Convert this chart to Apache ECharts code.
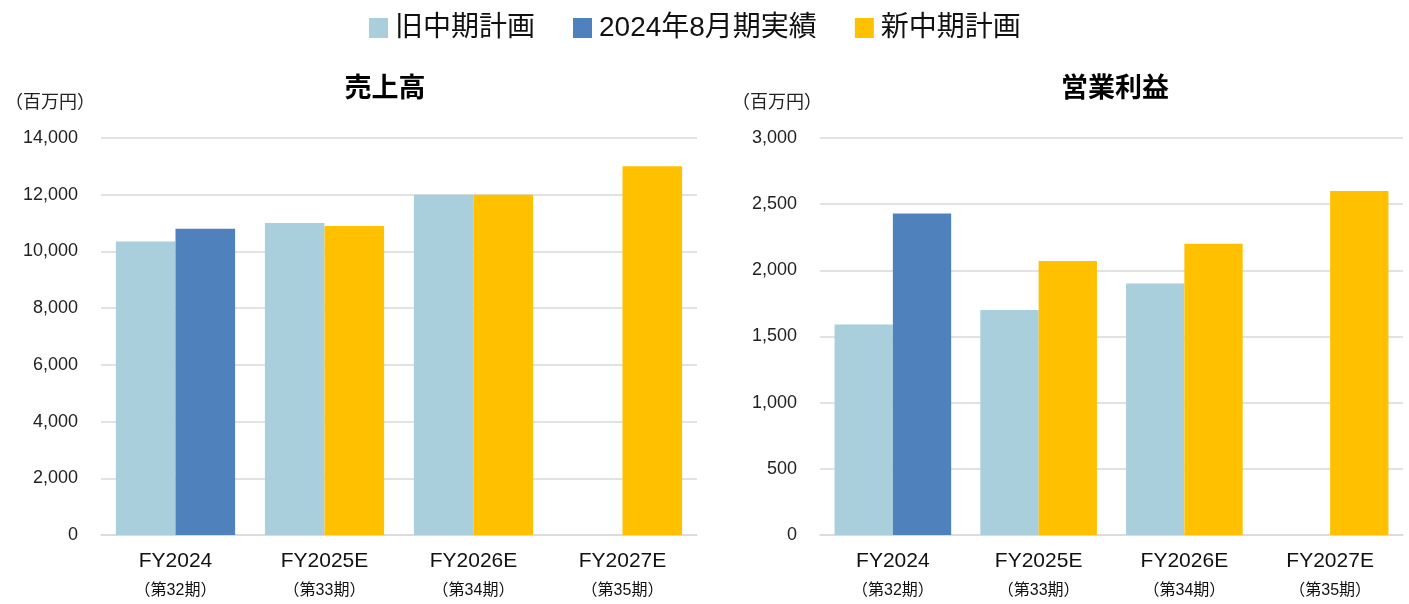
<!DOCTYPE html>
<html>
<head>
<meta charset="utf-8">
<script src="https://cdn.jsdelivr.net/npm/echarts@6/dist/echarts.min.js"></script>
<style>
  html, body { margin: 0; padding: 0; background: #fff; }
  #chart { width: 1409px; height: 604px; }
</style>
</head>
<body>
<div id="chart"></div>
<script>
// 共通データ
const categories = ['FY2024', 'FY2025E', 'FY2026E', 'FY2027E'];
const periods = ['（第32期）', '（第33期）', '（第34期）', '（第35期）'];
const seriesNames = ['旧中期計画', '2024年8月期実績', '新中期計画'];

// 売上高（百万円）
const salesOldPlan = [10350, 11000, 12000, null];
const salesActual = [10800, null, null, null];
const salesNewPlan = [null, 10900, 12000, 13000];

// 営業利益（百万円）
const profitOldPlan = [1590, 1700, 1900, null];
const profitActual = [2430, null, null, null];
const profitNewPlan = [null, 2070, 2200, 2600];

const colors = ['#a9cedc', '#4f81bd', '#ffc000'];
const FONT = '"Liberation Sans", "Noto Sans CJK JP", sans-serif';

const chart = echarts.init(document.getElementById('chart'));

function xAxis(gridIndex) {
  return {
    type: 'category',
    gridIndex: gridIndex,
    data: categories,
    axisLine: { lineStyle: { color: '#d9d9d9', width: 1.5 } },
    axisTick: { show: false },
    axisLabel: {
      margin: 12,
      formatter: function (value, idx) {
        return '{a|' + value + '}\n{b|' + periods[idx] + '}';
      },
      rich: {
        a: { fontSize: 21, lineHeight: 28, color: '#111', fontFamily: FONT },
        b: { fontSize: 16, lineHeight: 32, color: '#111', fontFamily: FONT }
      }
    }
  };
}

function yAxis(gridIndex, max, interval) {
  return {
    type: 'value',
    gridIndex: gridIndex,
    min: 0,
    max: max,
    interval: interval,
    axisLine: { show: false },
    axisTick: { show: false },
    axisLabel: {
      margin: 23,
      color: '#222',
      fontSize: 18,
      fontFamily: FONT,
      formatter: function (v) { return v.toLocaleString('en-US'); }
    },
    splitLine: { lineStyle: { color: '#d9d9d9', width: 1.5 } }
  };
}

function barSeries(name, data, idx, color, stack) {
  const s = {
    name: name,
    type: 'bar',
    xAxisIndex: idx,
    yAxisIndex: idx,
    data: data,
    barGap: 0,
    barCategoryGap: '20%',
    itemStyle: { color: color },
    emphasis: { disabled: true }
  };
  if (stack) s.stack = stack;
  return s;
}

const option = {
  backgroundColor: '#fff',
  animation: false,
  textStyle: { fontFamily: FONT },
  legend: {
    data: seriesNames,
    left: 364,
    top: 9,
    icon: 'rect',
    itemWidth: 19,
    itemHeight: 20,
    itemGap: 38,
    textStyle: { fontSize: 28, color: '#111', fontFamily: FONT, padding: [0, 0, 0, 2] }
  },
  title: [
    { text: '売上高', left: 380, top: 71, textAlign: 'center',
      textStyle: { fontSize: 27, fontWeight: 'bold', color: '#000', fontFamily: FONT } },
    { text: '営業利益', left: 1110, top: 71, textAlign: 'center',
      textStyle: { fontSize: 27, fontWeight: 'bold', color: '#000', fontFamily: FONT } },
    { text: '（百万円）', left: 0, top: 89,
      textStyle: { fontSize: 18, fontWeight: 'normal', color: '#222', fontFamily: FONT } },
    { text: '（百万円）', left: 727, top: 89,
      textStyle: { fontSize: 18, fontWeight: 'normal', color: '#222', fontFamily: FONT } }
  ],
  grid: [
    { left: 101, width: 596, top: 138, bottom: 69 },
    { left: 820, width: 583, top: 138, bottom: 69 }
  ],
  xAxis: [xAxis(0), xAxis(1)],
  yAxis: [yAxis(0, 14000, 2000), yAxis(1, 3000, 500)],
  series: [
    barSeries(seriesNames[0], salesOldPlan, 0, colors[0]),
    barSeries(seriesNames[1], salesActual, 0, colors[1], 'sales'),
    barSeries(seriesNames[2], salesNewPlan, 0, colors[2], 'sales'),
    barSeries(seriesNames[0], profitOldPlan, 1, colors[0]),
    barSeries(seriesNames[1], profitActual, 1, colors[1], 'profit'),
    barSeries(seriesNames[2], profitNewPlan, 1, colors[2], 'profit')
  ]
};

chart.setOption(option);
</script>
</body>
</html>
